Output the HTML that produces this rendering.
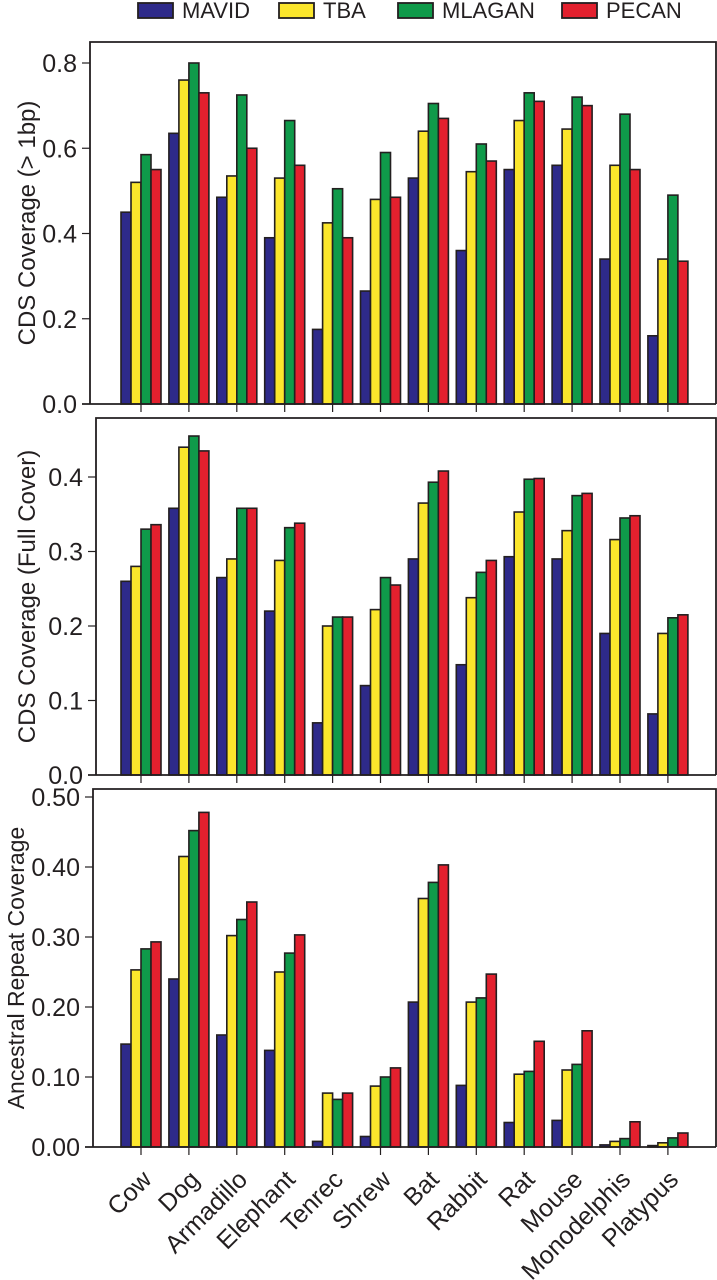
<!DOCTYPE html>
<html><head><meta charset="utf-8"><style>
html,body{margin:0;padding:0;background:#fff;}
svg{display:block;font-family:"Liberation Sans",Arial,sans-serif;}
</style></head><body>
<svg id="chart" width="717" height="1280" viewBox="0 0 717 1280" xmlns="http://www.w3.org/2000/svg">
<g id="legend"></g>
<g id="plots"></g>
</svg>
<script>
const categories = ["Cow","Dog","Armadillo","Elephant","Tenrec","Shrew","Bat","Rabbit","Rat","Mouse","Monodelphis","Platypus"];
const seriesNames = ["MAVID","TBA","MLAGAN","PECAN"];
const p1MAVID  = [0.45,0.635,0.485,0.39,0.175,0.265,0.53,0.36,0.55,0.56,0.34,0.16];
const p1TBA    = [0.52,0.76,0.535,0.53,0.425,0.48,0.64,0.545,0.665,0.645,0.56,0.34];
const p1MLAGAN = [0.585,0.80,0.725,0.665,0.505,0.59,0.705,0.61,0.73,0.72,0.68,0.49];
const p1PECAN  = [0.55,0.73,0.60,0.56,0.39,0.485,0.67,0.57,0.71,0.70,0.55,0.335];
const p2MAVID  = [0.26,0.358,0.265,0.22,0.07,0.12,0.29,0.148,0.293,0.29,0.19,0.082];
const p2TBA    = [0.28,0.44,0.29,0.288,0.2,0.222,0.365,0.238,0.353,0.328,0.316,0.19];
const p2MLAGAN = [0.33,0.455,0.358,0.332,0.212,0.265,0.393,0.272,0.397,0.375,0.345,0.211];
const p2PECAN  = [0.336,0.435,0.358,0.338,0.212,0.255,0.408,0.288,0.398,0.378,0.348,0.215];
const p3MAVID  = [0.147,0.24,0.16,0.138,0.008,0.015,0.207,0.088,0.035,0.038,0.003,0.002];
const p3TBA    = [0.253,0.415,0.302,0.25,0.077,0.087,0.355,0.207,0.104,0.11,0.008,0.006];
const p3MLAGAN = [0.283,0.452,0.325,0.277,0.068,0.1,0.378,0.213,0.108,0.118,0.012,0.013];
const p3PECAN  = [0.293,0.478,0.35,0.303,0.077,0.113,0.403,0.247,0.151,0.166,0.036,0.02];
const p1Ticks = [0,0.2,0.4,0.6,0.8];
const p1TickLabels = ["0.0","0.2","0.4","0.6","0.8"];
const p2Ticks = [0,0.1,0.2,0.3,0.4];
const p2TickLabels = ["0.0","0.1","0.2","0.3","0.4"];
const p3Ticks = [0,0.1,0.2,0.3,0.4,0.5];
const p3TickLabels = ["0.00","0.10","0.20","0.30","0.40","0.50"];

const colors = ["#2e2a8a","#fbe62c","#0f9a4a","#e3202e"];
const NS="http://www.w3.org/2000/svg";
function mk(tag,attrs,parent){const e=document.createElementNS(NS,tag);for(const k in attrs)e.setAttribute(k,attrs[k]);parent.appendChild(e);return e;}

const panels=[
 {left:90,top:42,right:716,bottom:404,max:0.8,maxY:63,ticks:p1Ticks,labels:p1TickLabels,series:[p1MAVID,p1TBA,p1MLAGAN,p1PECAN],title:"CDS Coverage (> 1bp)",tx:27,tfs:24,name:"cds-coverage-1bp"},
 {left:96,top:418,right:716,bottom:775,max:0.4,maxY:477,ticks:p2Ticks,labels:p2TickLabels,series:[p2MAVID,p2TBA,p2MLAGAN,p2PECAN],title:"CDS Coverage (Full Cover)",tx:27,tfs:24,name:"cds-coverage-full"},
 {left:93,top:789,right:716,bottom:1147,max:0.5,maxY:797,ticks:p3Ticks,labels:p3TickLabels,series:[p3MAVID,p3TBA,p3MLAGAN,p3PECAN],title:"Ancestral Repeat Coverage",tx:16,tfs:23,name:"ancestral-repeat-coverage"}
];
const plots=document.getElementById('plots');
const cx0=141, step=47.9, bw=10;
panels.forEach((p,pi)=>{
  const g=mk('g',{},plots);
  
  
  const y=v=>p.bottom-(v/p.max)*(p.bottom-p.maxY);
  const xc=i=>cx0+i*step;
  p.series.forEach((arr,si)=>{
    arr.forEach((v,i)=>{
      const x=xc(i)-2*bw+si*bw;
      const r=mk('rect',{x:x,y:y(v),width:bw,height:p.bottom-y(v),fill:colors[si],stroke:"#231f20","stroke-width":1.6},g);
      
      
    });
  });
  const fr=mk('path',{d:`M${p.left} ${p.bottom} L${p.left} ${p.top} L${p.right} ${p.top} L${p.right} ${p.bottom}`,fill:"none",stroke:"#231f20","stroke-width":1.8},g);
  
  
  const xa=mk('line',{x1:p.left-8,x2:p.right,y1:p.bottom,y2:p.bottom,stroke:"#231f20","stroke-width":1.8},g);
  
  
  p.ticks.forEach((t,ti)=>{
    const yy=y(t);
    if(t>0) mk('line',{x1:p.left-8,x2:p.left,y1:yy,y2:yy,stroke:"#231f20","stroke-width":1.2},g);
    const tl=mk('text',{x:p.left-13,y:yy+9,"text-anchor":"end","font-size":25,fill:"#231f20"},g);
    tl.textContent=p.labels[ti];
    
    
  });
  categories.forEach((c,i)=>{
    mk('line',{x1:xc(i),x2:xc(i),y1:p.bottom,y2:p.bottom+8,stroke:"#231f20","stroke-width":1.2},g);
  });
  const cy=(p.top+p.bottom)/2;
  const tt=mk('text',{x:p.tx,y:cy,"text-anchor":"middle","font-size":p.tfs,fill:"#231f20",transform:`rotate(-90 ${p.tx} ${cy}) translate(0 8)`},g);
  tt.textContent=p.title;
  
  
  if(pi===2){
    categories.forEach((c,i)=>{
      const x=xc(i)+12, yy=p.bottom+34;
      const t=mk('text',{x:x,y:yy,"text-anchor":"end","font-size":25,fill:"#231f20",transform:`rotate(-45 ${x} ${yy})`},g);
      t.textContent=c;
      
      
    });
  }
});
const legend=document.getElementById('legend');
const lx=[138,279,398,562];
seriesNames.forEach((s,i)=>{
  const r=mk('rect',{x:lx[i],y:3,width:35,height:15,fill:colors[i],stroke:"#231f20","stroke-width":1.8},legend);
  
  
  const t=mk('text',{x:lx[i]+44,y:18,"font-size":22,fill:"#231f20"},legend);
  t.textContent=s;
  
  
});
</script>
</body></html>
